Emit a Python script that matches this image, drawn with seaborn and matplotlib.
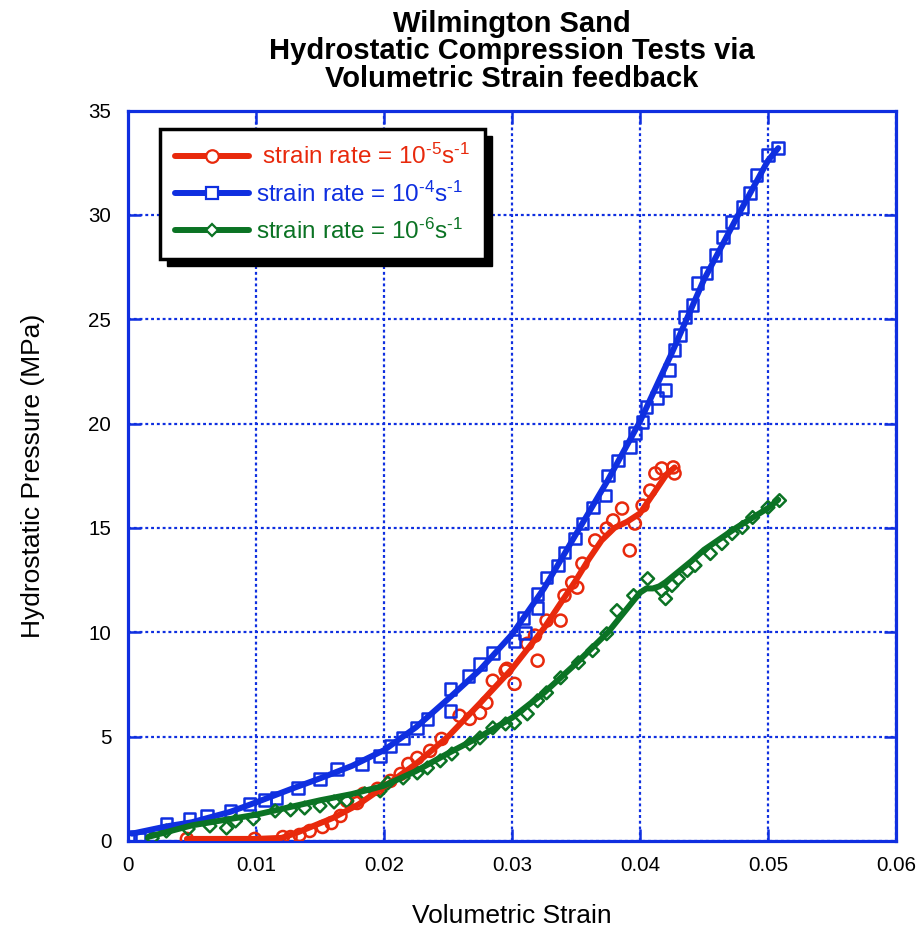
import numpy as np
import pandas as pd
import matplotlib
matplotlib.use("Agg")
import matplotlib.pyplot as plt
from matplotlib.lines import Line2D
from matplotlib.patches import Rectangle
import seaborn as sns

# ---------------- data ----------------
# strain rate 1e-4 (blue squares)
blue_x = [0.0002, 0.0009, 0.0030, 0.0048, 0.0062, 0.0080, 0.0095, 0.0107, 0.0116, 0.0133,
          0.0150, 0.0163, 0.0183, 0.0197, 0.0205, 0.0215, 0.0226, 0.0234, 0.0252, 0.0252,
          0.0266, 0.0275, 0.0285, 0.0302, 0.0310, 0.0309, 0.0320, 0.0320, 0.0327, 0.0336,
          0.0341, 0.0349, 0.0355, 0.0363, 0.0373, 0.0375, 0.0383, 0.0392, 0.0396, 0.0402,
          0.0405, 0.0413, 0.0420, 0.0423, 0.0427, 0.0431, 0.0435, 0.0441, 0.0445, 0.0452,
          0.0459, 0.0465, 0.0472, 0.0480, 0.0486, 0.0491, 0.0500, 0.0508]
blue_y = [0.19, 0.10, 0.82, 1.06, 1.20, 1.44, 1.78, 1.97, 2.06, 2.54,
          2.98, 3.45, 3.69, 4.08, 4.56, 4.94, 5.42, 5.85, 6.24, 7.29,
          7.92, 8.49, 9.02, 9.60, 9.98, 10.70, 11.18, 11.85, 12.62, 13.20,
          13.82, 14.49, 15.21, 15.98, 16.55, 17.51, 18.23, 18.86, 19.53, 20.06,
          20.78, 21.21, 21.59, 22.55, 23.51, 24.23, 25.10, 25.67, 26.73, 27.21,
          28.07, 28.93, 29.65, 30.37, 31.05, 31.91, 32.87, 33.21]
blue_fit_x = [0.0003, 0.003, 0.005, 0.008, 0.010, 0.013, 0.015, 0.0175, 0.020, 0.0225, 0.025,
              0.0275, 0.030, 0.0325, 0.035, 0.0375, 0.040, 0.0425, 0.045, 0.0475, 0.050, 0.0508]
blue_fit_y = [0.35, 0.7, 0.9, 1.4, 1.85, 2.55, 3.0, 3.6, 4.35, 5.45, 6.8,
              8.2, 9.9, 12.1, 14.7, 17.3, 20.1, 23.4, 26.9, 29.8, 32.6, 33.2]

# strain rate 1e-5 (red circles)
red_x = [0.0046, 0.0099, 0.0121, 0.0127, 0.0134, 0.0142, 0.0152, 0.0159, 0.0166, 0.0171,
         0.0179, 0.0184, 0.0195, 0.0205, 0.0213, 0.0219, 0.0226, 0.0236, 0.0245, 0.0259,
         0.0267, 0.0275, 0.0280, 0.0285, 0.0295, 0.0302, 0.0296, 0.0312, 0.0320, 0.0318,
         0.0327, 0.0338, 0.0341, 0.0347, 0.0351, 0.0355, 0.0365, 0.0374, 0.0379, 0.0386,
         0.0392, 0.0396, 0.0402, 0.0408, 0.0412, 0.0417, 0.0426, 0.0427]
red_y = [0.10, 0.10, 0.19, 0.19, 0.29, 0.48, 0.67, 0.86, 1.20, 1.92,
         1.82, 2.26, 2.50, 2.88, 3.21, 3.69, 3.98, 4.32, 4.89, 6.00,
         5.85, 6.14, 6.62, 7.68, 8.16, 7.53, 8.25, 9.45, 8.64, 9.84,
         10.56, 10.56, 11.76, 12.38, 12.14, 13.29, 14.40, 14.97, 15.36, 15.93,
         13.92, 15.21, 16.07, 16.79, 17.61, 17.85, 17.90, 17.61]
red_fit_x = [0.0046, 0.010, 0.012, 0.013, 0.014, 0.016, 0.018, 0.020, 0.0225, 0.025, 0.0275,
             0.030, 0.0325, 0.035, 0.036, 0.037, 0.038, 0.039, 0.040, 0.041, 0.042, 0.0427]
red_fit_y = [0.1, 0.1, 0.15, 0.35, 0.6, 1.1, 1.75, 2.6, 3.7, 5.0, 6.6,
             8.25, 10.2, 12.5, 13.5, 14.4, 15.0, 15.3, 15.7, 16.6, 17.5, 17.9]

# strain rate 1e-6 (green diamonds)
green_x = [0.0019, 0.0030, 0.0047, 0.0064, 0.0077, 0.0084, 0.0098, 0.0115, 0.0127, 0.0138,
           0.0150, 0.0161, 0.0171, 0.0185, 0.0197, 0.0203, 0.0215, 0.0226, 0.0234, 0.0244,
           0.0253, 0.0267, 0.0275, 0.0285, 0.0295, 0.0302, 0.0312, 0.0320, 0.0327, 0.0338,
           0.0352, 0.0363, 0.0374, 0.0382, 0.0395, 0.0406, 0.0417, 0.0420, 0.0425, 0.0430,
           0.0437, 0.0443, 0.0455, 0.0464, 0.0472, 0.0480, 0.0488, 0.0500, 0.0509]
green_y = [0.14, 0.48, 0.58, 0.72, 0.62, 0.96, 1.06, 1.44, 1.49, 1.58,
           1.68, 1.87, 1.92, 2.26, 2.40, 2.78, 3.02, 3.26, 3.50, 3.84,
           4.17, 4.65, 4.94, 5.42, 5.61, 5.66, 6.09, 6.72, 7.10, 7.82,
           8.54, 9.12, 9.93, 11.04, 11.76, 12.57, 12.00, 11.61, 12.24, 12.57,
           12.96, 13.20, 13.77, 14.25, 14.73, 15.02, 15.50, 15.98, 16.31]
green_fit_x = [0.0016, 0.005, 0.010, 0.015, 0.0175, 0.020, 0.0225, 0.025, 0.0275, 0.030,
               0.0325, 0.035, 0.0375, 0.040, 0.0405, 0.041, 0.0415, 0.042, 0.043, 0.044,
               0.045, 0.0475, 0.050, 0.0508]
green_fit_y = [0.2, 0.75, 1.26, 1.95, 2.25, 2.65, 3.35, 4.2, 5.0, 5.9,
               7.1, 8.5, 10.0, 11.9, 12.1, 12.1, 12.2, 12.4, 12.9, 13.4,
               13.95, 15.0, 15.95, 16.35]

x_ticks = [0, 0.01, 0.02, 0.03, 0.04, 0.05, 0.06]
x_tick_labels = ["0", "0.01", "0.02", "0.03", "0.04", "0.05", "0.06"]
y_ticks = [0, 5, 10, 15, 20, 25, 30, 35]

labels = [r" strain rate = 10$^{\text{-}5}$s$^{\text{-}1}$",
          r"strain rate = 10$^{\text{-}4}$s$^{\text{-}1}$",
          r"strain rate = 10$^{\text{-}6}$s$^{\text{-}1}$"]

# ---------------- style ----------------
RED = "#e8290c"
BLUE = "#0f2fe0"
GREEN = "#0b7324"

sns.set_style("white")
plt.rcParams["font.family"] = ["Liberation Sans", "DejaVu Sans"]
plt.rcParams["mathtext.fontset"] = "custom"
plt.rcParams["mathtext.rm"] = "Liberation Sans"
plt.rcParams["mathtext.default"] = "regular"
plt.rcParams["text.color"] = "black"
plt.rcParams["axes.labelcolor"] = "black"

fig = plt.figure(figsize=(9.22, 9.31), dpi=100)
ax = fig.add_axes([128 / 922, 1 - 841 / 931, 768 / 922, 730.5 / 931])

series = [
    (red_x, red_y, red_fit_x, red_fit_y, RED, "o", 75),
    (blue_x, blue_y, blue_fit_x, blue_fit_y, BLUE, "s", 72),
    (green_x, green_y, green_fit_x, green_fit_y, GREEN, "D", 42),
]

for mx, my, fx, fy, col, mk, sz in series:
    sns.scatterplot(x=mx, y=my, ax=ax, marker=mk, s=sz, color=col,
                    facecolor="none", edgecolor=col, linewidth=1.8, zorder=3)
    sns.lineplot(x=fx, y=fy, ax=ax, sort=False, estimator=None, color=col,
                 linewidth=4.3, zorder=4, solid_capstyle="round", solid_joinstyle="round")

ax.set_xlim(0, 0.06)
ax.set_ylim(0, 35)
ax.set_xticks(x_ticks)
ax.set_xticklabels(x_tick_labels)
ax.set_yticks(y_ticks)
ax.set_yticklabels([str(v) for v in y_ticks])

ax.grid(True, color=BLUE, linewidth=1.6, linestyle=(0, (1.3, 1.3)))
for sp in ax.spines.values():
    sp.set_color(BLUE)
    sp.set_linewidth(2.3)
    sp.set_visible(True)

ax.tick_params(axis="both", which="major", direction="in", length=9, width=1.8,
               color=BLUE, labelsize=14.8, labelcolor="black",
               top=True, right=True, bottom=True, left=True)
ax.tick_params(axis="x", pad=11)
ax.tick_params(axis="y", pad=12)

ax.set_xlabel("Volumetric Strain", fontsize=19, labelpad=21)
ax.set_ylabel("Hydrostatic Pressure (MPa)", fontsize=19, labelpad=31)
ax.set_title("Wilmington Sand\nHydrostatic Compression Tests via\nVolumetric Strain feedback",
             fontsize=21, fontweight="bold", pad=17, linespacing=0.98, color="black")

handles = [Line2D([], [], color=c, lw=4.3, marker=m, markersize=ms,
                  markerfacecolor="white", markeredgecolor=c, markeredgewidth=1.6)
           for c, m, ms in [(RED, "o", 9), (BLUE, "s", 8.5), (GREEN, "D", 6.5)]]
leg = ax.legend(handles, labels, loc="upper left", bbox_to_anchor=(0.042, 0.974),
                fontsize=17.5, numpoints=1, handlelength=3.05, handletextpad=0.3,
                labelspacing=0.5, borderpad=0.6, fancybox=False, frameon=True,
                borderaxespad=0)
leg.get_frame().set_edgecolor("black")
leg.get_frame().set_linewidth(2.5)
leg.get_frame().set_facecolor("white")
leg.get_frame().set_alpha(1)
leg.set_zorder(10)
for t, c in zip(leg.get_texts(), [RED, BLUE, GREEN]):
    t.set_color(c)

fig.canvas.draw()
bb = leg.get_window_extent()
shadow = Rectangle((bb.x0 + 7, bb.y0 - 7), bb.width, bb.height, transform=None,
                   facecolor="black", edgecolor="black", zorder=9.5)
ax.add_artist(shadow)

fig.savefig("out.png", dpi=100)
